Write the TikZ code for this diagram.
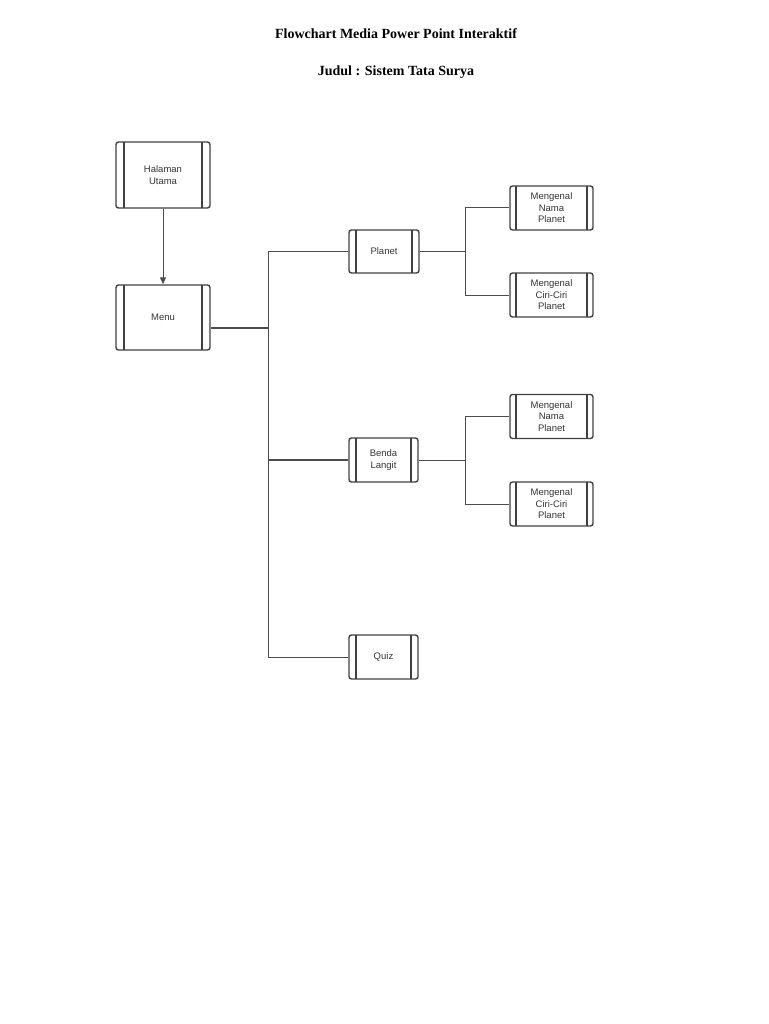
\documentclass[tikz,border=0pt]{standalone}
\usepackage{fontspec}
\setmainfont{Liberation Serif}
\newfontfamily\boxfont{Liberation Sans}
\usetikzlibrary{arrows.meta}
\begin{document}
\begin{tikzpicture}[x=1pt,y=-1pt,
  proc/.style={draw=black!75,line width=1.4pt,rounded corners=2.5pt,align=center,font=\boxfont\fontsize{9.5}{11.5}\selectfont,text=black!80,inner sep=0pt,
    path picture={\draw[black!75,line width=1.2pt] ([xshift=#1]path picture bounding box.north west)--([xshift=#1]path picture bounding box.south west)
      ([xshift=-#1]path picture bounding box.north east)--([xshift=-#1]path picture bounding box.south east);}},
  proc/.default=7pt,
  ln/.style={draw=black!70,line width=1pt}]
\useasboundingbox (0,0) rectangle (768,1024);
\node[font=\bfseries\fontsize{14}{16}\selectfont] (t1) at (396,34) {Flowchart Media Power Point Interaktif};
\node[font=\bfseries\fontsize{14}{16}\selectfont] (t2) at (396,72) {Judul : Sistem Tata Surya};
\node[proc=8pt,minimum width=94pt,minimum height=66pt] (hu) at (163,175) {Halaman\\Utama};
\node[proc=8pt,minimum width=94pt,minimum height=65pt] (menu) at (163,317.5) {Menu};
\node[proc,minimum width=70pt,minimum height=43pt] (pl) at (384,251.5) {Planet};
\node[proc,minimum width=69pt,minimum height=44pt] (bl) at (383.5,460) {Benda\\Langit};
\node[proc,minimum width=69pt,minimum height=44pt] (qz) at (383.5,657) {Quiz};
\node[proc=6pt,minimum width=83pt,minimum height=44pt] (n1) at (551.5,208) {Mengenal\\Nama\\Planet};
\node[proc=6pt,minimum width=83pt,minimum height=44pt] (c1) at (551.5,295) {Mengenal\\Ciri-Ciri\\Planet};
\node[proc=6pt,minimum width=83pt,minimum height=44pt] (n2) at (551.5,416.5) {Mengenal\\Nama\\Planet};
\node[proc=6pt,minimum width=83pt,minimum height=44pt] (c2) at (551.5,504) {Mengenal\\Ciri-Ciri\\Planet};
\draw[ln,-{Triangle[length=7pt,width=6pt]}] (hu) -- (menu);
\coordinate (tr) at (268,328);
\draw[ln,line width=1.4pt] (menu.east|-tr) -- (tr);
\draw[ln] (pl.west) -| (268,657) -- (qz.west);
\draw[ln,line width=1.4pt] (268,460) -- (bl.west);
\draw[ln] (pl.east) -- (465,251.5);
\draw[ln] (n1.west) -| (465,295) -- (c1.west);
\draw[ln] (bl.east) -- (465,460);
\draw[ln] (n2.west) -| (465,504) -- (c2.west);
\end{tikzpicture}
\end{document}
